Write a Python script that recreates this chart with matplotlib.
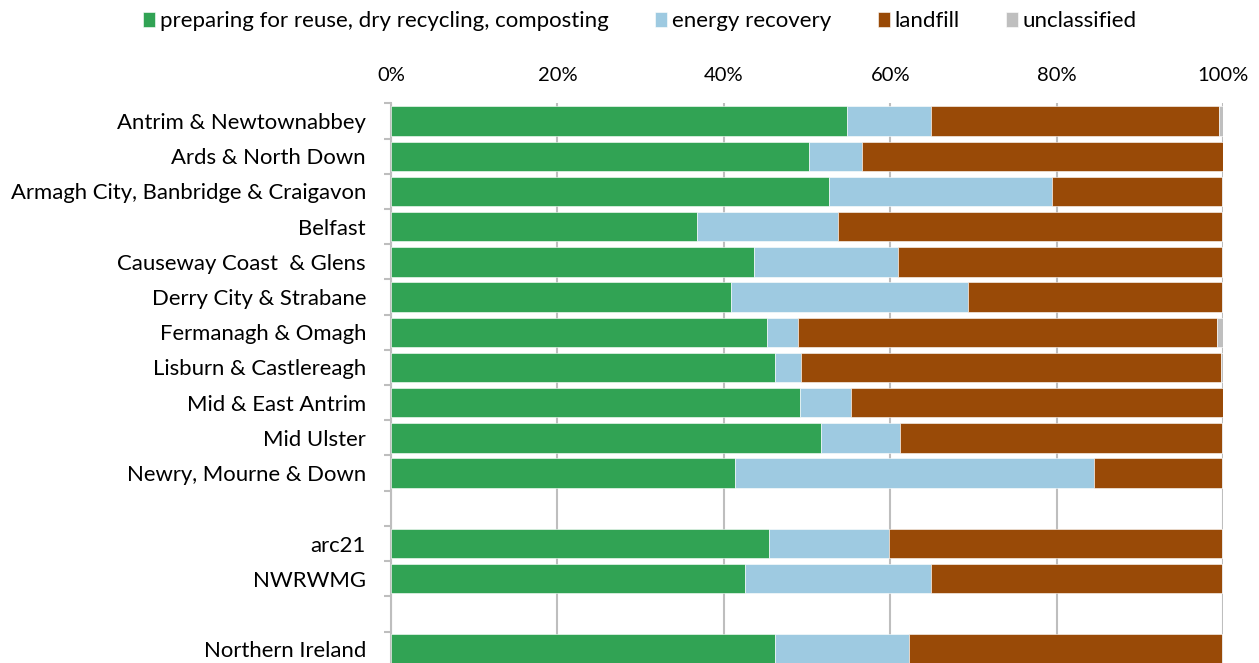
import matplotlib
matplotlib.use("Agg")
import matplotlib.pyplot as plt
import numpy as np
from matplotlib.ticker import FixedLocator, PercentFormatter

plt.rcParams['font.family'] = ['Lato', 'DejaVu Sans']

# ---- data (percent of total) ----
councils = ["Antrim & Newtownabbey", "Ards & North Down", "Armagh City, Banbridge & Craigavon",
            "Belfast", "Causeway Coast  & Glens", "Derry City & Strabane", "Fermanagh & Omagh",
            "Lisburn & Castlereagh", "Mid & East Antrim", "Mid Ulster", "Newry, Mourne & Down"]
council_recycling = [54.8, 50.2, 52.6, 36.8, 43.6, 40.9, 45.2, 46.2, 49.1, 51.7, 41.4]
council_energy    = [10.1, 6.4, 26.8, 16.9, 17.3, 28.4, 3.7, 3.1, 6.2, 9.5, 43.1]
council_landfill  = [34.6, 43.4, 20.5, 46.2, 39.0, 30.6, 50.4, 50.4, 44.8, 38.7, 15.4]
council_unclass   = [0.5, 0.2, 0.1, 0.1, 0.1, 0.1, 0.7, 0.3, 0.2, 0.1, 0.1]

regions = ["arc21", "NWRWMG"]
region_recycling = [45.4, 42.5]
region_energy    = [14.5, 22.4]
region_landfill  = [40.0, 35.0]
region_unclass   = [0.1, 0.1]

total = ["Northern Ireland"]
total_recycling = [46.2]
total_energy    = [16.1]
total_landfill  = [37.6]
total_unclass   = [0.1]

series_names = ["preparing for reuse, dry recycling, composting", "energy recovery",
                "landfill", "unclassified"]
colors = ["#31A354", "#9ECAE1", "#994A07", "#BFBFBF"]

# ---- layout: groups separated by one empty slot ----
groups = [
    (councils, [council_recycling, council_energy, council_landfill, council_unclass]),
    (regions, [region_recycling, region_energy, region_landfill, region_unclass]),
    (total, [total_recycling, total_energy, total_landfill, total_unclass]),
]

fig = plt.figure(figsize=(12.59, 6.63), dpi=100)
ax = fig.add_axes([391/1259, 1 - 666.7/663, (1223-391)/1259, (666.7-103.5)/663])

labels, positions = [], []
slot = 0
first = True
for names, vals in groups:
    if not first:
        slot += 1
    first = False
    pos = np.arange(slot, slot + len(names))
    left = np.zeros(len(names))
    for k, (v, c) in enumerate(zip(vals, colors)):
        v = np.array(v, dtype=float)
        ax.barh(pos, v, left=left, height=0.83, color=c, edgecolor="white", linewidth=0.4,
                label=series_names[k] if slot == 0 else None, zorder=3)
        left = left + v
    labels += names
    positions += list(pos)
    slot += len(names)

nslots = slot
ax.set_ylim(nslots - 0.5, -0.5)
ax.set_xlim(0, 100)

ax.xaxis.tick_top()
ax.set_xticks([0, 20, 40, 60, 80, 100])
ax.xaxis.set_major_formatter(PercentFormatter(decimals=0))
ax.tick_params(axis='x', length=0, pad=14, labelsize=14.5, colors="black")
ax.grid(axis='x', color="#BEBEBE", linewidth=1.5, zorder=0)

ax.set_yticks(positions)
ax.set_yticklabels(labels)
ax.tick_params(axis='y', which='major', length=0, pad=18, labelsize=15.9)
ax.yaxis.set_minor_locator(FixedLocator(np.arange(-0.5, nslots, 1.0)))
ax.tick_params(axis='y', which='minor', length=5, width=1.5, color="#BEBEBE", direction='out')

for s in ["top", "right", "bottom"]:
    ax.spines[s].set_visible(False)
ax.spines["left"].set_color("#BEBEBE")
ax.spines["left"].set_linewidth(1.5)

h, l = ax.get_legend_handles_labels()
fig.legend(h, l, loc="center", bbox_to_anchor=(640/1259, 1 - 21/663), ncol=4, frameon=False,
           fontsize=16, handlelength=0.55, handleheight=0.65, handletextpad=0.2,
           columnspacing=2.1)

fig.savefig("out.png", dpi=100)
